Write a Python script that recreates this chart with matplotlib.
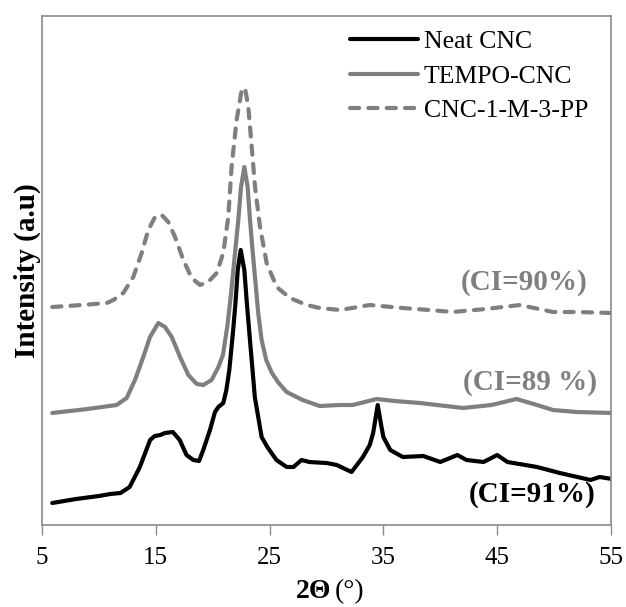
import matplotlib
matplotlib.use("Agg")
import matplotlib.pyplot as plt

# ---- data (arbitrary intensity units) ----
neat_x = [5.9, 8.0, 10.0, 11.0, 11.9, 12.7, 13.6, 14.5, 14.9, 15.4, 15.8, 16.5, 17.1,
          17.7, 18.3, 18.8, 19.17, 19.76, 20.2, 20.5, 20.93, 21.2, 21.46, 21.8, 22.0,
          22.2, 22.46, 22.78, 23.0, 23.2, 23.5, 23.7, 24.0, 24.3, 24.8, 25.6, 26.5,
          27.1, 27.8, 28.5, 30.0, 30.9, 32.2, 33.2, 33.8, 34.1, 34.5, 34.8, 35.0,
          35.6, 36.7, 38.5, 40.0, 41.5, 42.3, 43.8, 45.0, 45.9, 48.5, 50.5, 53.2,
          54.0, 55.1]
neat_y = [22, 26, 29, 31, 32, 38, 58, 85, 89, 90, 92, 93, 85,
          70, 65, 64, 75, 95, 113, 118, 122, 135, 155, 195, 222,
          255, 275, 255, 222, 195, 155, 128, 108, 88, 78, 65, 58,
          58, 65, 63, 62, 60, 53, 68, 80, 92, 120, 100, 88,
          75, 68, 69, 63, 70, 65, 63, 70, 63, 58, 52, 45,
          48, 46]

tempo_x = [5.9, 9.0, 11.56, 12.44, 13.17, 13.9, 14.49, 15.22, 15.81, 16.4, 17.13,
           17.86, 18.6, 19.17, 19.9, 20.5, 20.9, 21.3, 21.6, 21.9, 22.25, 22.49,
           22.78, 23.07, 23.28, 23.5, 23.7, 24.0, 24.3, 24.7, 25.2, 25.8, 26.5,
           27.9, 29.4, 31.2, 32.3, 34.4, 36.0, 38.2, 42.0, 44.5, 46.7, 48.5, 49.9,
           52.0, 55.1]
tempo_y = [112, 116, 120, 127, 145, 168, 188, 202, 198, 188, 168,
           150, 141, 140, 145, 158, 170, 200, 230, 265, 305, 338,
           358, 338, 305, 275, 250, 212, 185, 165, 152, 142, 133,
           125, 119, 120, 120, 126, 124, 122, 117, 120, 126, 120, 115,
           113, 112]

pp_x = [5.9, 8.5, 10.7, 11.27, 12.14, 13.02, 13.76, 14.34, 14.93, 15.52, 16.1,
        16.69, 17.42, 18.15, 18.88, 19.6, 20.35, 20.93, 21.37, 21.66, 22.1, 22.55,
        22.84, 23.13, 23.43, 23.72, 24.16, 24.74, 25.62, 26.79, 28.26, 29.4, 31.2,
        33.8, 36.7, 39.0, 41.1, 44.0, 47.0, 49.9, 52.0, 55.1]
pp_y = [218, 220, 222, 225, 232, 248, 272, 295, 308, 310, 303,
        288, 265, 247, 240, 243, 252, 272, 308, 358, 405, 435,
        437, 418, 378, 338, 298, 262, 238, 227, 220, 217, 215,
        220, 217, 215, 213, 216, 220, 213, 213, 212]

series_labels = ["Neat CNC", "TEMPO-CNC", "CNC-1-M-3-PP"]
ci_labels = ["(CI=91%)", "(CI=89 %)", "(CI=90%)"]
x_ticks = [5, 15, 25, 35, 45, 55]

# ---- figure ----
plt.rcParams['font.family'] = ['Liberation Serif', 'DejaVu Serif']
GRAY = '#7f7f7f'
SPINE = '#8a8a8a'
W, H = 626, 607

fig = plt.figure(figsize=(W / 100, H / 100), dpi=100)
ax = fig.add_axes([42 / W, 1 - 525 / H, (611 - 42) / W, (525 - 16) / H])

ax.plot(neat_x, neat_y, color='black', lw=3.0, label=series_labels[0],
        solid_joinstyle='round', solid_capstyle='round')
ax.plot(tempo_x, tempo_y, color=GRAY, lw=3.0, label=series_labels[1],
        solid_joinstyle='round', solid_capstyle='round')
ax.plot(pp_x, pp_y, color=GRAY, lw=3.0, ls=(0, (2.2, 2.2)), label=series_labels[2],
        dash_capstyle='round', dash_joinstyle='round')

ax.set_xlim(5, 55)
ax.set_ylim(0, 509)
ax.set_xticks(x_ticks)
ax.set_xticklabels([str(t) for t in x_ticks])
ax.set_yticks([])
ax.tick_params(axis='x', direction='out', length=7, width=1, color=SPINE,
               labelsize=18, pad=9)
for s in ax.spines.values():
    s.set_color(SPINE)
    s.set_linewidth(1.2)

ax.set_ylabel('Intensity (a.u)', fontsize=21, fontweight='bold', labelpad=1)

# x label: bold "2Θ" and regular "(°)"
fig.text(331 / W, 1 - 592 / H, '2\u0398', fontsize=20, fontweight='bold',
         ha='right', va='center')
fig.text(335 / W, 1 - 592 / H, '(\u00b0)', fontsize=20, ha='left', va='center')

ax.legend(loc='upper right', bbox_to_anchor=(588 / W, 1 - 30 / H),
          bbox_transform=fig.transFigure, frameon=False, borderaxespad=0,
          borderpad=0, fontsize=18.5, handlelength=2.65, handletextpad=0.2,
          labelspacing=0.45)

ax.text(588 / W, 1 - 282 / H, ci_labels[2], transform=fig.transFigure, color=GRAY,
        fontsize=21, fontweight='bold', ha='right', va='center')
ax.text(597 / W, 1 - 383 / H, ci_labels[1], transform=fig.transFigure, color=GRAY,
        fontsize=21, fontweight='bold', ha='right', va='center')
ax.text(595 / W, 1 - 494 / H, ci_labels[0], transform=fig.transFigure, color='black',
        fontsize=21, fontweight='bold', ha='right', va='center')

fig.savefig('out.png', dpi=100)
